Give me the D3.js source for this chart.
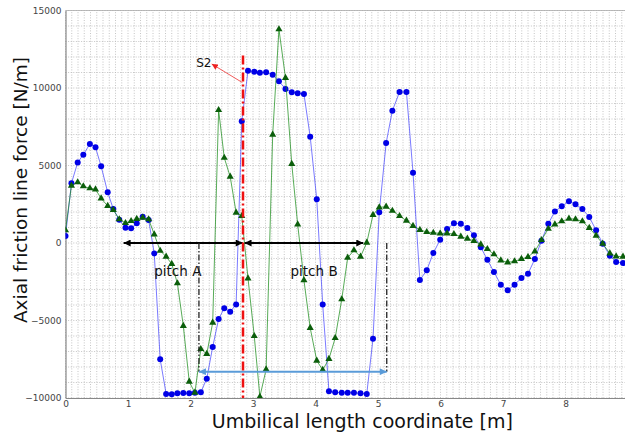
<!DOCTYPE html>
<html>
<head>
<meta charset="utf-8">
<script src="https://cdn.jsdelivr.net/npm/d3@7"></script>
<style>
  html, body { margin: 0; padding: 0; background: #fff; }
  svg { display: block; font-family: "DejaVu Sans", sans-serif; }
</style>
</head>
<body>
<svg id="chart" width="625" height="433"></svg>
<script>
// umbilical length coordinate [m] (shared by both series)
const lengthPos = [0, 0.095, 0.195, 0.285, 0.39, 0.48, 0.57, 0.675, 0.765, 0.86,
  0.96, 1.05, 1.14, 1.235, 1.33, 1.42, 1.515, 1.61, 1.70, 1.79,
  1.885, 1.98, 2.07, 2.165, 2.26, 2.355, 2.45, 2.54, 2.635, 2.73,
  2.82, 2.92, 3.02, 3.11, 3.21, 3.315, 3.415, 3.52, 3.62, 3.715,
  3.815, 3.915, 4.02, 4.115, 4.215, 4.315, 4.42, 4.515, 4.615, 4.72,
  4.82, 4.92, 5.02, 5.13, 5.23, 5.345, 5.455, 5.56, 5.67, 5.78,
  5.885, 5.995, 6.105, 6.215, 6.325, 6.43, 6.535, 6.645, 6.75, 6.855,
  6.965, 7.075, 7.185, 7.295, 7.40, 7.51, 7.615, 7.725, 7.83, 7.94,
  8.055, 8.16, 8.27, 8.38, 8.49, 8.595, 8.71, 8.81, 8.92];

// blue series (circles) [N/m]
const forceBlue = [450, 3850, 5200, 5700, 6390, 6170, 4950, 3270, 2190, 1500,
  990, 950, 1270, 1700, 1480, -670, -7500, -9740, -9760, -9700,
  -9680, -9700, -9660, -9630, -8750, -6710, -4900, -4210, -4430, -3960,
  7850, 11120, 11050, 10990, 11010, 10860, 10430, 9940, 9720, 9660,
  9610, 6860, 2820, -3960, -9570, -9630, -9660, -9660, -9660, -9700,
  -9740, -6170, 1980, 6450, 8540, 9740, 9740, 4540, -2390, -1760,
  -650, 210, 900, 1270, 1250, 970, 500, -280, -1080, -1870,
  -2690, -3050, -2690, -2260, -1980, -1030, 150, 1250, 2040, 2370,
  2690, 2500, 2190, 1680, 820, -45, -820, -1230, -1290];

// green series (triangles) [N/m]
const forceGreen = [820, 3700, 3920, 3660, 3530, 3460, 2880, 2390, 2130, 1530,
  1290, 1420, 1550, 1630, 1530, 560, -500, -880, -1350, -2600,
  -5350, -8950, -9660, -6840, -7160, -5140, 8580, 5500, 4280, 1960,
  1740, -2280, -6000, -9920, -8150, 6990, 13790, 10650, 5100, 1200,
  -2400, -5480, -7590, -8190, -7480, -6130, -3630, -950, -470, -880,
  20, 1810, 2300, 2340, 2080, 1740, 1440, 1100, 850, 710,
  660, 620, 620, 580, 410, 280, 130, -90, -390, -730,
  -1120, -1250, -1180, -1030, -900, -540, 190, 920, 1200, 1400,
  1570, 1530, 1400, 970, 470, -45, -670, -860, -880];

const xTicks = [0, 1, 2, 3, 4, 5, 6, 7, 8];
const yTicks = [-10000, -5000, 0, 5000, 10000, 15000];

// annotation positions, in data units
const pitchArrows = [[0.93, 2.835], [2.865, 4.765]];
const pitchLabels = [{ text: 'pitch A', x: 1.42, y: -1850 }, { text: 'pitch B', x: 3.6, y: -1850 }];
const pitchMarks = [2.135, 5.14];
const pitchBase = -8300;
const s2Line = 2.84;
const s2Label = { text: 'S2', x: 2.09, y: 11600, tipX: 2.34, tipY: 11550, fromX: 2.83, fromY: 10350 };

const width = 625, height = 433;
const margin = { left: 65.5, top: 10.5 };
const plotW = 593.75, plotH = 387.5;

const svg = d3.select('#chart');

const x = d3.scaleLinear().domain([0, 9.5]).range([margin.left, margin.left + plotW]);
const y = d3.scaleLinear().domain([-10000, 15000]).range([margin.top + plotH, margin.top]);

svg.append('defs').append('clipPath').attr('id', 'plotclip')
  .append('rect')
  .attr('x', margin.left).attr('y', margin.top)
  .attr('width', plotW).attr('height', plotH);

// dotted grid
const grid = svg.append('g').attr('class', 'grid');
grid.selectAll('line.vx')
  .data(d3.range(0, 95).map(i => i / 10))
  .enter().append('line')
  .attr('x1', d => x(d)).attr('x2', d => x(d))
  .attr('y1', y(-10000)).attr('y2', y(15000))
  .attr('stroke', '#b8b8b8').attr('stroke-width', 0.8)
  .attr('stroke-dasharray', '1,1.6');
grid.selectAll('line.hy')
  .data(d3.range(-10000, 15001, 1000))
  .enter().append('line')
  .attr('x1', x(0)).attr('x2', x(9.5))
  .attr('y1', d => y(d)).attr('y2', d => y(d))
  .attr('stroke', '#b8b8b8').attr('stroke-width', 0.8)
  .attr('stroke-dasharray', '1,1.6');

// axes
const xAxis = d3.axisBottom(x).tickValues(xTicks).tickSize(0).tickPadding(3).tickFormat(d3.format('d'));
const yAxis = d3.axisLeft(y).tickValues(yTicks).tickSize(0).tickPadding(4).tickFormat(d => d < 0 ? '\u2212' + Math.abs(d) : d);

const gx = svg.append('g').attr('transform', `translate(0,${y(-10000)})`).call(xAxis);
const gy = svg.append('g').attr('transform', `translate(${x(0)},0)`).call(yAxis);
[gx, gy].forEach(g => {
  g.select('.domain').attr('stroke', '#888').attr('stroke-width', 1.2);
  g.selectAll('text').attr('font-size', 9).attr('fill', '#444')
    .attr('font-family', '"DejaVu Sans", sans-serif');
});
svg.append('line')
  .attr('x1', x(0)).attr('x2', x(9.5)).attr('y1', y(15000)).attr('y2', y(15000))
  .attr('stroke', '#aaa').attr('stroke-width', 0.8);

svg.append('text')
  .attr('x', x(4.75)).attr('y', 428)
  .attr('text-anchor', 'middle').attr('font-size', 19).attr('fill', '#111')
  .text('Umbilical length coordinate [m]');
svg.append('text')
  .attr('transform', 'translate(27,190) rotate(-90)')
  .attr('text-anchor', 'middle').attr('font-size', 18.5).attr('fill', '#111')
  .text('Axial friction line force [N/m]');

const plot = svg.append('g').attr('clip-path', 'url(#plotclip)');

const blueData = lengthPos.map((d, i) => [d, forceBlue[i]]);
const greenData = lengthPos.map((d, i) => [d, forceGreen[i]]);
const line = d3.line().x(d => x(d[0])).y(d => y(d[1]));

// blue series
plot.append('path').datum(blueData)
  .attr('d', line).attr('fill', 'none')
  .attr('stroke', '#3333ff').attr('stroke-opacity', 0.65).attr('stroke-width', 1);
plot.selectAll('circle.blue').data(blueData).enter().append('circle')
  .attr('cx', d => x(d[0])).attr('cy', d => y(d[1])).attr('r', 3)
  .attr('fill', '#0000e6');

// green series
plot.append('path').datum(greenData)
  .attr('d', line).attr('fill', 'none')
  .attr('stroke', '#118811').attr('stroke-opacity', 0.7).attr('stroke-width', 1);
const tri = d3.symbol().type(d3.symbolTriangle).size(22);
plot.selectAll('path.green').data(greenData).enter().append('path')
  .attr('transform', d => `translate(${x(d[0])},${y(d[1])})`)
  .attr('d', tri).attr('fill', '#0b5e0b');

// annotations
const defs = svg.select('defs');
function arrowHead(id, color, w, h) {
  defs.append('marker').attr('id', id)
    .attr('viewBox', '0 0 10 10').attr('refX', 10).attr('refY', 5)
    .attr('markerWidth', w).attr('markerHeight', h)
    .attr('markerUnits', 'userSpaceOnUse')
    .attr('orient', 'auto-start-reverse')
    .append('path').attr('d', 'M0,0 L10,5 L0,10 z').attr('fill', color);
}
arrowHead('headBlack', '#000', 9, 7);
arrowHead('headBlue', '#5a9bd8', 9, 7);
arrowHead('headRed', '#ee2222', 7, 6);

const ann = svg.append('g');
ann.selectAll('line.pitch').data(pitchArrows).enter().append('line')
  .attr('x1', d => x(d[0])).attr('x2', d => x(d[1]))
  .attr('y1', y(0)).attr('y2', y(0))
  .attr('stroke', '#000').attr('stroke-width', 2)
  .attr('marker-start', 'url(#headBlack)').attr('marker-end', 'url(#headBlack)');

ann.selectAll('line.mark').data(pitchMarks).enter().append('line')
  .attr('x1', d => x(d)).attr('x2', d => x(d))
  .attr('y1', y(0)).attr('y2', y(pitchBase))
  .attr('stroke', '#222').attr('stroke-width', 1.3)
  .attr('stroke-dasharray', '6,2,1.5,2');

ann.append('line')
  .attr('x1', x(pitchMarks[0])).attr('x2', x(pitchMarks[1]))
  .attr('y1', y(pitchBase)).attr('y2', y(pitchBase))
  .attr('stroke', '#5a9bd8').attr('stroke-width', 2)
  .attr('marker-start', 'url(#headBlue)').attr('marker-end', 'url(#headBlue)');

ann.selectAll('text.pitch').data(pitchLabels).enter().append('text')
  .attr('x', d => x(d.x)).attr('y', d => y(d.y))
  .attr('dy', '0.35em').attr('font-size', 13.5).attr('fill', '#111')
  .text(d => d.text);

// S2 line
ann.append('line')
  .attr('x1', x(s2Line)).attr('x2', x(s2Line))
  .attr('y1', y(12100)).attr('y2', y(-10000))
  .attr('stroke', '#ee1111').attr('stroke-width', 2.5)
  .attr('stroke-dasharray', '9,3,2,3');
ann.append('line')
  .attr('x1', x(s2Label.fromX)).attr('y1', y(s2Label.fromY))
  .attr('x2', x(s2Label.tipX)).attr('y2', y(s2Label.tipY))
  .attr('stroke', '#ee3333').attr('stroke-width', 0.8)
  .attr('marker-end', 'url(#headRed)');
ann.append('text')
  .attr('x', x(s2Label.x)).attr('y', y(s2Label.y))
  .attr('dy', '0.35em').attr('font-size', 12).attr('fill', '#111')
  .text(s2Label.text);
</script>
</body>
</html>
